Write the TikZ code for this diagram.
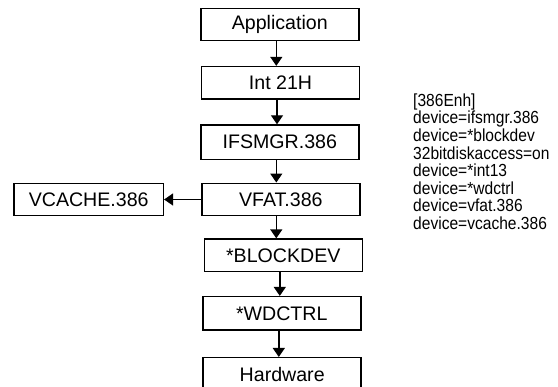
\documentclass[tikz,border=0pt]{standalone}
\usepackage{fontspec}
\setmainfont{Liberation Sans}
\newfontfamily\narrowfont[FakeStretch=0.89]{Liberation Sans}
\usetikzlibrary{arrows.meta}
\tikzset{
  blk/.style={draw=black, line width=1.5pt, minimum width=158pt, minimum height=32.4pt,
    inner sep=0pt, font=\fontsize{19.6}{22}\selectfont},
  flow/.style={line width=1.4pt, -{Triangle[width=12pt,length=9pt]}},
  cfg/.style={anchor=north west, inner sep=0pt, align=left,
    font=\narrowfont\fontsize{17.5}{17.6}\selectfont}
}
\begin{document}
\begin{tikzpicture}[x=1pt,y=-1pt]
\useasboundingbox (0,0) rectangle (558,387);
\clip (0,0) rectangle (558,387);
\node[blk] (app) at (279.8,24.5) {Application};
\node[blk] (int) at (280.5,82.8) {Int 21H};
\node[blk, minimum height=34.3pt] (ifs) at (279.8,142.2) {IFSMGR.386};
\node[blk] (vfat) at (280.8,199.5) {VFAT.386};
\node[blk, minimum width=149.3pt] (vcache) at (88.7,199.5) {VCACHE.386};
\node[blk] (block) at (283.3,255.3) {*BLOCKDEV};
\node[blk, minimum height=33.3pt] (wd) at (281.8,313.3) {*WDCTRL};
\node[blk, minimum height=33pt] (hw) at (282.2,374.2) {Hardware};
\draw[flow] ([xshift=-3.5pt]app.south) -- ([xshift=-3.5pt]app.south |- int.north);
\draw[flow] ([xshift=-3.5pt]int.south) -- ([xshift=-3.5pt]int.south |- ifs.north);
\draw[flow] ([xshift=-3.5pt]ifs.south) -- ([xshift=-3.5pt]ifs.south |- vfat.north);
\draw[flow] ([xshift=-4.5pt]vfat.south) -- ([xshift=-4.5pt]vfat.south |- block.north);
\draw[flow] ([xshift=-3.5pt]block.south) -- ([xshift=-3.5pt]block.south |- wd.north);
\draw[flow] ([xshift=-3pt]wd.south) -- ([xshift=-3pt]wd.south |- hw.north);
\draw[flow] (vfat.west) -- (vcache.east);
\node[cfg] (conf) at (413,93.5) {[386Enh]\\device=ifsmgr.386\\device=*blockdev\\32bitdiskaccess=on\\device=*int13\\device=*wdctrl\\device=vfat.386\\device=vcache.386};
\end{tikzpicture}
\end{document}
